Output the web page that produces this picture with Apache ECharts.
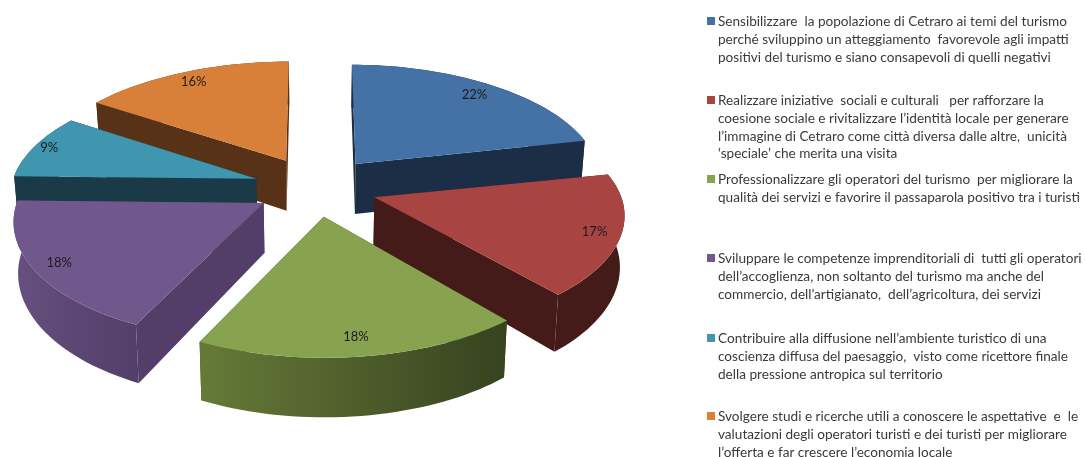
<!DOCTYPE html>
<html>
<head>
<meta charset="utf-8">
<style>
  html, body { margin: 0; padding: 0; background: #fff; }
  #chart { width: 1085px; height: 457px; }
</style>
<script src="https://cdn.jsdelivr.net/npm/echarts@6/dist/echarts.min.js"></script>
</head>
<body>
<div id="chart"></div>
<script>
// values, clockwise from 12 o'clock
const sliceValues = [22, 17, 18, 18, 9, 16];
const legendTexts = [
  'Sensibilizzare  la popolazione di Cetraro ai temi del turismo\nperché sviluppino un atteggiamento  favorevole agli impatti\npositivi del turismo e siano consapevoli di quelli negativi',
  'Realizzare iniziative  sociali e culturali   per rafforzare la\ncoesione sociale e rivitalizzare l’identità locale per generare\nl’immagine di Cetraro come città diversa dalle altre,  unicità\n‘speciale’ che merita una visita',
  'Professionalizzare gli operatori del turismo  per migliorare la\nqualità dei servizi e favorire il passaparola positivo tra i turisti',
  'Sviluppare le competenze imprenditoriali di  tutti gli operatori\ndell’accoglienza, non soltanto del turismo ma anche del\ncommercio, dell’artigianato,  dell’agricoltura, dei servizi',
  'Contribuire alla diffusione nell’ambiente turistico di una\ncoscienza diffusa del paesaggio,  visto come ricettore finale\ndella pressione antropica sul territorio',
  'Svolgere studi e ricerche utili a conoscere le aspettative  e  le\nvalutazioni degli operatori turisti e dei turisti per migliorare\nl’offerta e far crescere l’economia locale'
];

// styles, same order as the values
const topColors = ['#4471a6', '#a84442', '#87a34f', '#70588c', '#3f96ae', '#d8803a'];
const wallLeft = ['#1b2e45', '#441b19', '#667a38', '#65507f', '#1a3a47', '#573216'];
const wallRight = ['#1b2e45', '#441b19', '#37421f', '#523e68', '#1a3a47', '#573216'];
const legendTops = [21, 100, 179, 258, 338, 416];
const labelRadius = [0.87, 0.9, 0.86, 0.9, 0.93, 0.89];
const drawOrder = [5, 0, 4, 1, 3, 2]; // back to front

// projection of the 3d pie
const centerX = 316, centerY = 187;
const radiusX = 246, radiusY = 115;
const sliceScaleX = [0.98, 1, 1.02, 1, 0.985, 1];
const sliceScaleY = [1, 0.97, 1.03, 1, 1, 1];
const perspective = 0.16;
const explodeX = 62, explodeY = 30;
const explodeShrink = 0.1; // far rim drifts toward the middle
const sideLift = 2.5;
const depth = 50, bottomShrink = 0.985;

const total = sliceValues.reduce((a, b) => a + b, 0);
let running = 0;
const sliceRows = sliceValues.map((v, i) => {
  const start = running / total * Math.PI * 2;
  running += v;
  return { index: i, value: v, start, end: running / total * Math.PI * 2 };
});

const project = (a, r, i) => {
  const w = 1 + perspective * Math.cos(a);
  const sin = Math.sin(a);
  return [
    radiusX * sliceScaleX[i] * r * sin / w,
    (-radiusY * sliceScaleY[i] * Math.cos(a) / w - sideLift * Math.pow(sin, 4)) * r
  ];
};
const lower = (p, a) => {
  const w = a === null ? 1 : 1 + perspective * Math.cos(a);
  return [centerX + (p[0] - centerX) * bottomShrink, p[1] + depth / w];
};

const renderSlice = (params, api) => {
  const row = sliceRows[api.value(0)];
  const i = row.index;
  const mid = (row.start + row.end) / 2;
  const apex = [centerX + explodeX * Math.sin(mid), centerY - explodeY * Math.cos(mid)];
  const drift = apex[0] - centerX;

  const angles = [];
  const steps = Math.ceil((row.end - row.start) / 0.03);
  for (let s = 0; s <= steps; s++) angles.push(row.start + (row.end - row.start) * s / steps);
  const rim = angles.map(a => {
    const p = project(a, 1, i);
    return [apex[0] + p[0] + drift * (1 / (1 + explodeShrink * Math.cos(a)) - 1), apex[1] + p[1]];
  });
  const rimLow = rim.map((p, k) => lower(p, angles[k]));
  const apexLow = lower(apex, null);
  const wallStyle = {
    fill: new echarts.graphic.LinearGradient(0, 0, 1, 0, [
      { offset: 0, color: wallLeft[i] },
      { offset: 1, color: wallRight[i] }
    ])
  };
  const flatStyle = { fill: wallRight[i] };

  const lab = project(mid, labelRadius[i], i);
  return {
    type: 'group',
    children: [
      { type: 'polygon', shape: { points: [apex, rim[0], rimLow[0], apexLow] }, style: flatStyle },
      { type: 'polygon', shape: { points: [apex, rim[steps], rimLow[steps], apexLow] }, style: flatStyle },
      { type: 'polygon', shape: { points: rim.concat(rimLow.slice().reverse()) }, style: wallStyle },
      { type: 'polygon', shape: { points: [apex].concat(rim) }, style: { fill: topColors[i] } },
      {
        type: 'text',
        x: apex[0] + lab[0],
        y: apex[1] + lab[1],
        style: {
          text: row.value + '%',
          fill: '#1c1c1c',
          font: '13px Lato',
          align: 'center',
          verticalAlign: 'middle'
        }
      }
    ]
  };
};

// legend is placed by hand, entries are not evenly spaced in the original
const legendGraphics = [];
legendTexts.forEach((text, i) => {
  legendGraphics.push({
    type: 'rect',
    left: 707,
    top: legendTops[i] - 4,
    shape: { width: 8, height: 8 },
    style: { fill: topColors[i] }
  });
  legendGraphics.push({
    type: 'text',
    left: 718,
    top: legendTops[i] - 8,
    style: {
      text,
      fill: '#3a3a3a',
      font: '13.6px Lato',
      lineHeight: 17.7
    }
  });
});

const chart = echarts.init(document.getElementById('chart'), null, { renderer: 'canvas' });
chart.setOption({
  animation: false,
  backgroundColor: '#fff',
  graphic: { elements: legendGraphics },
  series: [{
    type: 'custom',
    coordinateSystem: 'none',
    renderItem: renderSlice,
    silent: true,
    data: drawOrder.map(i => [i])
  }]
});
</script>
</body>
</html>
